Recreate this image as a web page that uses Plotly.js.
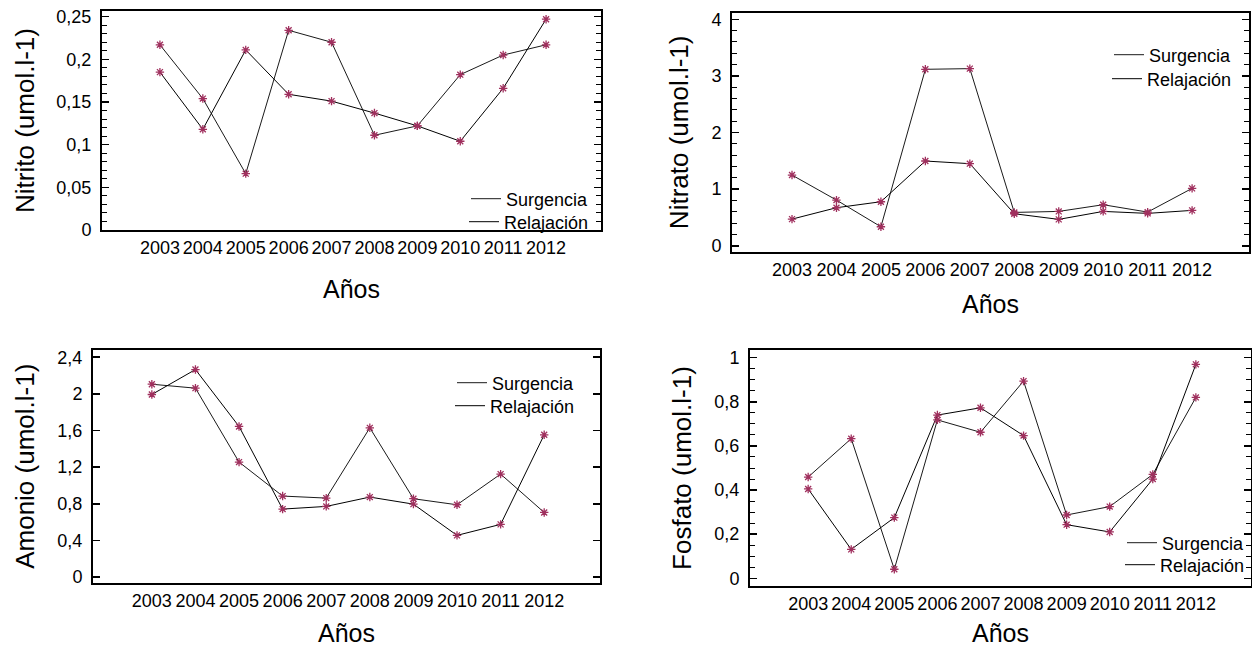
<!DOCTYPE html>
<html><head><meta charset="utf-8">
<script src="https://cdn.plot.ly/plotly-3.0.1.min.js"></script>
<style>html,body{margin:0;padding:0;background:#fff}#chart{width:1252px;height:647px}</style>
</head><body><div id="chart"></div>
<script>
const years = [2003, 2004, 2005, 2006, 2007, 2008, 2009, 2010, 2011, 2012];
const yearLabels = ['2003','2004','2005','2006','2007','2008','2009','2010','2011','2012'];
const seriesNames = ['Surgencia', 'Relajación'];

const nitritoSurgencia  = [0.217, 0.154, 0.066, 0.234, 0.220, 0.111, 0.122, 0.182, 0.205, 0.217];
const nitritoRelajacion = [0.185, 0.118, 0.211, 0.159, 0.151, 0.137, 0.122, 0.104, 0.166, 0.247];

const nitratoSurgencia  = [1.249, 0.807, 0.336, 3.117, 3.129, 0.589, 0.607, 0.725, 0.595, 1.014];
const nitratoRelajacion = [0.471, 0.672, 0.778, 1.497, 1.450, 0.566, 0.466, 0.607, 0.572, 0.625];

const amonioSurgencia  = [2.105, 2.062, 1.255, 0.884, 0.862, 1.629, 0.855, 0.789, 1.124, 0.705];
const amonioRelajacion = [1.993, 2.265, 1.644, 0.742, 0.771, 0.873, 0.796, 0.455, 0.575, 1.553];

const fosfatoSurgencia  = [0.459, 0.633, 0.041, 0.718, 0.662, 0.894, 0.287, 0.325, 0.471, 0.820];
const fosfatoRelajacion = [0.405, 0.131, 0.275, 0.740, 0.773, 0.647, 0.243, 0.210, 0.450, 0.970];

const nitritoTicks = [0, 0.05, 0.1, 0.15, 0.2, 0.25];
const nitritoTickText = ['0', '0,05', '0,1', '0,15', '0,2', '0,25'];
const nitratoTicks = [0, 1, 2, 3, 4];
const nitratoTickText = ['0', '1', '2', '3', '4'];
const amonioTicks = [0, 0.4, 0.8, 1.2, 1.6, 2, 2.4];
const amonioTickText = ['0', '0,4', '0,8', '1,2', '1,6', '2', '2,4'];
const fosfatoTicks = [0, 0.2, 0.4, 0.6, 0.8, 1];
const fosfatoTickText = ['0', '0,2', '0,4', '0,6', '0,8', '1'];

const yTitles = ['Nitrito (umol.l-1)', 'Nitrato (umol.l-1)', 'Amonio (umol.l-1)', 'Fosfato (umol.l-1)'];
const xTitle = 'Años';

// ---- layout geometry (pixels) ----
const W = 1252, H = 647;
const px = v => v / W;
const py = v => 1 - v / H;
const FONT = 'Liberation Sans, Arial, sans-serif';

const panels = [
  {s: nitritoSurgencia, r: nitritoRelajacion, tv: nitritoTicks, tt: nitritoTickText, range: [0, 0.2566], minor: 0.01,
   box: [102, 601, 11, 230], xst: 24, yst: 14, legX: 594, legY: [199, 222]},
  {s: nitratoSurgencia, r: nitratoRelajacion, tv: nitratoTicks, tt: nitratoTickText, range: [-0.11, 4.117], minor: 0.2,
   box: [732, 1249, 12.7, 252], xst: 17, yst: 15, legX: 1237, legY: [55, 79]},
  {s: amonioSurgencia, r: amonioRelajacion, tv: amonioTicks, tt: amonioTickText, range: [-0.065, 2.484], minor: null,
   box: [93, 600, 349.5, 583], xst: 15, yst: 15, legX: 580, legY: [383, 406]},
  {s: fosfatoSurgencia, r: fosfatoRelajacion, tv: fosfatoTicks, tt: fosfatoTickText, range: [-0.035, 1.035], minor: 0.05,
   box: [750, 1251, 350, 586], xst: 15, yst: 15, legX: 1250, legY: [543, 565]}
];

const traces = [];
const layout = {
  width: W, height: H,
  margin: {l: 0, r: 0, t: 0, b: 0},
  paper_bgcolor: '#fff', plot_bgcolor: '#fff',
  font: {family: FONT, color: '#000', size: 18},
  showlegend: true
};

panels.forEach((p, i) => {
  const n = i + 1;
  const xa = n === 1 ? 'x' : 'x' + n;
  const ya = n === 1 ? 'y' : 'y' + n;
  const xKey = n === 1 ? 'xaxis' : 'xaxis' + n;
  const yKey = n === 1 ? 'yaxis' : 'yaxis' + n;

  [p.s, p.r].forEach((vals, k) => {
    const li = 2 * i + k + 1;
    const legName = li === 1 ? 'legend' : 'legend' + li;
    traces.push({
      x: years, y: vals, xaxis: xa, yaxis: ya, type: 'scatter', mode: 'lines',
      name: seriesNames[k], legend: legName, showlegend: true,
      line: {color: k === 0 ? '#1a1a1a' : '#000', width: 1},
      hoverinfo: 'skip'
    });
    layout[legName] = {
      x: px(p.legX), y: py(p.legY[k]), xanchor: 'right', yanchor: 'middle',
      xref: 'paper', yref: 'paper',
      bgcolor: 'rgba(0,0,0,0)', borderwidth: 0,
      font: {family: FONT, size: 18, color: '#000'},
      itemwidth: 30, tracegroupgap: 0
    };
  });
  [p.s, p.r].forEach((vals, k) => {
    traces.push({
      x: years, y: vals, xaxis: xa, yaxis: ya, type: 'scatter', mode: 'markers',
      name: seriesNames[k], showlegend: false,
      marker: {symbol: 'asterisk-open', size: 7, color: '#a0305e', line: {color: '#a0305e', width: 1.3}},
      hoverinfo: 'skip'
    });
  });

  const [l, r, t, b] = p.box;
  layout[xKey] = {
    domain: [px(l), px(r)], anchor: ya,
    range: [2001.65, 2013.28], tickmode: 'array', tickvals: years, ticktext: yearLabels,
    ticks: '', showline: true, linecolor: '#000', linewidth: 2, mirror: true,
    showgrid: false, zeroline: false, fixedrange: true,
    tickfont: {family: FONT, size: 18, color: '#000'},
    title: {text: xTitle, font: {family: FONT, size: 25, color: '#000'}, standoff: p.xst}
  };
  const yax = {
    domain: [py(b), py(t)], anchor: xa,
    range: p.range, tickmode: 'array', tickvals: p.tv, ticktext: p.tt,
    ticks: 'inside', ticklen: 7, tickwidth: 1.5, tickcolor: '#000',
    showline: true, linecolor: '#000', linewidth: 2, mirror: 'ticks',
    showgrid: false, zeroline: false, fixedrange: true, ticklabelstandoff: 5,
    tickfont: {family: FONT, size: 18, color: '#000'},
    title: {text: yTitles[i], font: {family: FONT, size: 26, color: '#000'}, standoff: p.yst}
  };
  if (p.minor) {
    yax.minor = {tick0: 0, dtick: p.minor, ticks: 'inside', ticklen: 5, tickwidth: 1, tickcolor: '#000', showgrid: false};
  }
  layout[yKey] = yax;
});

Plotly.newPlot('chart', traces, layout, {staticPlot: true, displayModeBar: false});
</script>
</body></html>
